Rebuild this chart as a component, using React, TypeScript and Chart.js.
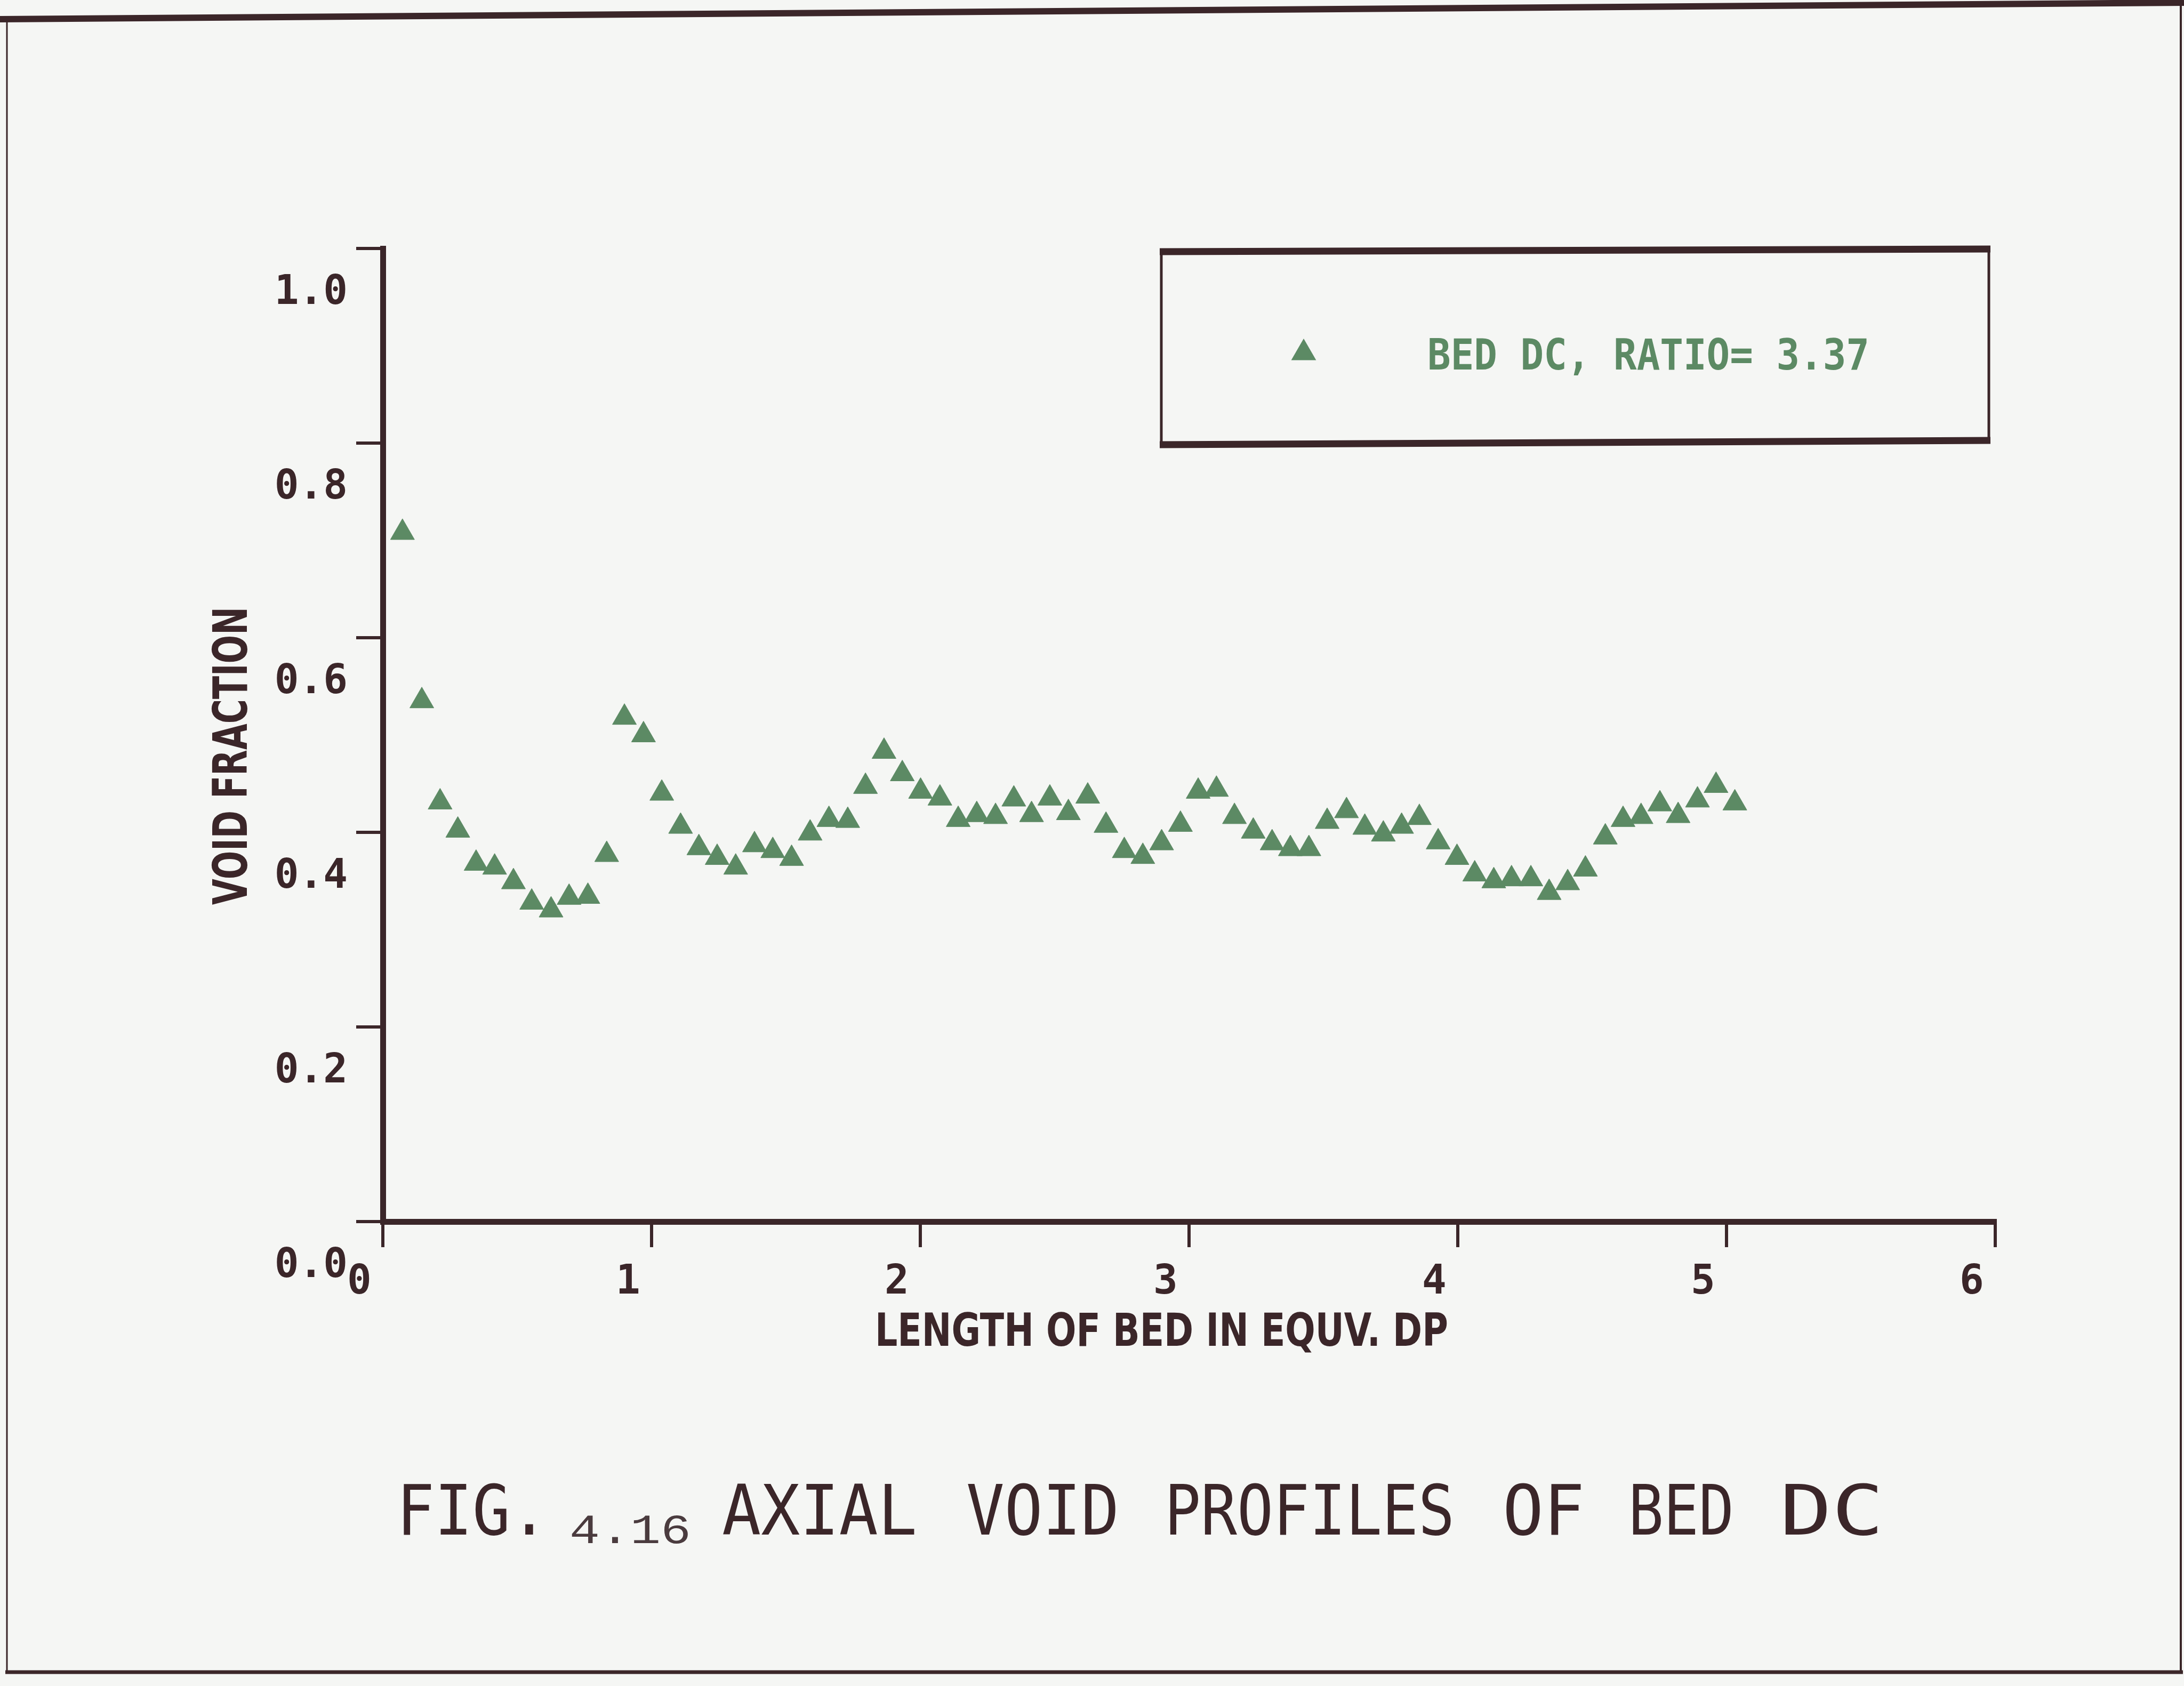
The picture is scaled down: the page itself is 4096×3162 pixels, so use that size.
import React, { useEffect, useRef } from 'react';
import { Chart, registerables } from 'chart.js';

Chart.register(...registerables);

// ---- data ----
const lengthDp = [
  0.073, 0.145, 0.213, 0.279, 0.347, 0.416, 0.486, 0.554, 0.626, 0.693,
  0.763, 0.833, 0.899, 0.970, 1.038, 1.108, 1.176, 1.244, 1.313, 1.383,
  1.451, 1.521, 1.590, 1.660, 1.730, 1.796, 1.865, 1.933, 2.001, 2.073,
  2.141, 2.210, 2.280, 2.348, 2.414, 2.482, 2.551, 2.623, 2.691, 2.759,
  2.828, 2.898, 2.968, 3.034, 3.102, 3.169, 3.239, 3.309, 3.377, 3.446,
  3.514, 3.586, 3.654, 3.723, 3.791, 3.857, 3.927, 3.997, 4.063, 4.134,
  4.200, 4.272, 4.340, 4.409, 4.475, 4.549, 4.615, 4.682, 4.752, 4.820,
  4.892, 4.961, 5.031,
];
const voidFraction = [
  0.708, 0.535, 0.431, 0.402, 0.368, 0.364, 0.349, 0.328, 0.320, 0.333,
  0.334, 0.377, 0.518, 0.500, 0.440, 0.406, 0.384, 0.374, 0.364, 0.387,
  0.381, 0.373, 0.399, 0.413, 0.412, 0.447, 0.483, 0.460, 0.442, 0.435,
  0.413, 0.418, 0.416, 0.434, 0.418, 0.435, 0.420, 0.437, 0.407, 0.381,
  0.375, 0.389, 0.408, 0.442, 0.444, 0.416, 0.401, 0.389, 0.383, 0.383,
  0.411, 0.422, 0.405, 0.398, 0.406, 0.415, 0.390, 0.374, 0.357, 0.350,
  0.352, 0.352, 0.338, 0.348, 0.362, 0.395, 0.413, 0.416, 0.429, 0.417,
  0.433, 0.448, 0.430,
];
const xTickValues = [0, 1, 2, 3, 4, 5, 6];
const yTickValues = [0, 0.2, 0.4, 0.6, 0.8, 1.0];
const seriesLabel = 'BED DC, RATIO= 3.37';
const xTitle = 'LENGTH OF BED IN EQUV. DP';
const yTitle = 'VOID FRACTION';
const captionFig = 'FIG.';
const captionNum = '4.16';
const captionWords = ['AXIAL', 'VOID', 'PROFILES', 'OF', 'BED', 'DC'];

// ---- styling ----
const W = 4096;
const H = 3162;
const PAPER = '#f5f6f4';
const INK = '#3b2629';
const GREEN = '#5c8a64';
const MONO = '"DejaVu Sans Mono", monospace';
const SANS = '"DejaVu Sans", sans-serif';
const TYPE = '"Liberation Mono", "DejaVu Sans Mono", monospace';

function fitText(
  ctx: CanvasRenderingContext2D,
  text: string,
  left: number,
  width: number,
  baseline: number,
  font: string,
  color: string,
) {
  ctx.save();
  ctx.font = font;
  ctx.fillStyle = color;
  ctx.textAlign = 'left';
  ctx.textBaseline = 'alphabetic';
  const w = ctx.measureText(text).width || 1;
  ctx.translate(left, baseline);
  ctx.scale(width / w, 1);
  ctx.fillText(text, 0, 0);
  ctx.restore();
}

const decorPlugin = {
  id: 'decor',
  beforeDraw(chart: any) {
    const ctx: CanvasRenderingContext2D = chart.ctx;
    ctx.save();
    ctx.fillStyle = PAPER;
    ctx.fillRect(0, 0, W, H);
    ctx.restore();
  },
  afterDraw(chart: any) {
    const ctx: CanvasRenderingContext2D = chart.ctx;
    ctx.save();
    ctx.strokeStyle = INK;
    ctx.lineCap = 'butt';
    // outer frame
    ctx.lineWidth = 12;
    ctx.beginPath();
    ctx.moveTo(0, 36);
    ctx.lineTo(W, 5);
    ctx.stroke();
    ctx.lineWidth = 3;
    ctx.beginPath();
    ctx.moveTo(13, 36);
    ctx.lineTo(13, 3138);
    ctx.stroke();
    ctx.lineWidth = 4;
    ctx.beginPath();
    ctx.moveTo(4090, 5);
    ctx.lineTo(4090, 3138);
    ctx.stroke();
    ctx.lineWidth = 7;
    ctx.beginPath();
    ctx.moveTo(10, 3136);
    ctx.lineTo(4094, 3136);
    ctx.stroke();

    // legend box
    const lx0 = 2178, lx1 = 3730, ly0 = 472, ly1 = 834;
    ctx.lineWidth = 13;
    ctx.beginPath();
    ctx.moveTo(lx0 - 3, ly0);
    ctx.lineTo(lx1 + 3, ly0 - 5);
    ctx.moveTo(lx0 - 3, ly1);
    ctx.lineTo(lx1 + 3, ly1 - 8);
    ctx.stroke();
    ctx.lineWidth = 5;
    ctx.beginPath();
    ctx.moveTo(lx0, ly0);
    ctx.lineTo(lx0, ly1);
    ctx.moveTo(lx1, ly0 - 5);
    ctx.lineTo(lx1, ly1 - 8);
    ctx.stroke();
    // legend marker
    const mx = 2445, my = 662, r = 27;
    ctx.fillStyle = GREEN;
    ctx.beginPath();
    for (let i = 0; i < 3; i++) {
      const a = (i * 2 * Math.PI) / 3;
      const px = mx + Math.sin(a) * r;
      const py = my - Math.cos(a) * r;
      if (i === 0) ctx.moveTo(px, py);
      else ctx.lineTo(px, py);
    }
    ctx.closePath();
    ctx.fill();
    fitText(ctx, seriesLabel, 2677, 829, 693, `bold 80px ${MONO}`, GREEN);

    // axis titles
    fitText(ctx, xTitle, 1641, 1075, 2524, `bold 86px ${SANS}`, INK);
    ctx.save();
    ctx.translate(463, 1697);
    ctx.rotate(-Math.PI / 2);
    fitText(ctx, yTitle, 0, 559, 0, `bold 89px ${SANS}`, INK);
    ctx.restore();

    // caption
    fitText(ctx, captionFig, 744, 284, 2878, `130px ${MONO}`, INK);
    fitText(ctx, captionNum, 1068, 228, 2894, `78px ${TYPE}`, '#4a3b3e');
    const wordPos = [
      [1354, 1720],
      [1812, 2099],
      [2184, 2728],
      [2818, 2972],
      [3054, 3252],
      [3338, 3533],
    ];
    captionWords.forEach((wd, i) => {
      const [a, b] = wordPos[i];
      fitText(ctx, wd, a, b - a, 2878, `130px ${MONO}`, INK);
    });
    ctx.restore();
  },
};

export default function App() {
  const ref = useRef<HTMLCanvasElement | null>(null);

  useEffect(() => {
    document.body.style.margin = '0';
    document.body.style.background = PAPER;
    const canvas = ref.current;
    if (!canvas) return;
    const points = lengthDp.map((x, i) => ({ x, y: voidFraction[i] }));
    const chart = new Chart(canvas, {
      type: 'scatter',
      data: {
        datasets: [
          {
            label: seriesLabel,
            data: points,
            showLine: false,
            pointStyle: 'triangle',
            pointRadius: 26,
            pointHoverRadius: 26,
            pointBackgroundColor: GREEN,
            pointBorderColor: GREEN,
            pointBorderWidth: 1,
          },
        ],
      },
      options: {
        responsive: false,
        devicePixelRatio: 1,
        animation: false,
        events: [],
        layout: { padding: { top: 466, right: 354, bottom: 0, left: 0 } },
        plugins: {
          legend: { display: false },
          tooltip: { enabled: false },
          title: { display: false },
        },
        scales: {
          x: {
            type: 'linear',
            min: 0,
            max: 6,
            afterFit: (s: any) => {
              s.height = H - 2291;
            },
            afterBuildTicks: (s: any) => {
              s.ticks = xTickValues.map((v) => ({ value: v }));
            },
            ticks: {
              stepSize: 1,
              autoSkip: false,
              maxRotation: 0,
              labelOffset: -44,
              padding: 22,
              color: INK,
              font: { family: MONO, weight: 'bold', size: 76 },
              callback: (v: any) => String(v),
            },
            grid: {
              display: true,
              drawOnChartArea: false,
              drawTicks: true,
              tickLength: 48,
              color: INK,
              lineWidth: 6,
            },
            border: { display: true, color: INK, width: 11 },
          },
          y: {
            type: 'linear',
            min: 0,
            max: 1,
            afterFit: (s: any) => {
              s.width = 718;
            },
            afterBuildTicks: (s: any) => {
              s.ticks = yTickValues.map((v) => ({ value: v }));
            },
            ticks: {
              stepSize: 0.2,
              autoSkip: false,
              labelOffset: 84,
              padding: 16,
              color: INK,
              font: { family: MONO, weight: 'bold', size: 76 },
              callback: (v: any) => Number(v).toFixed(1),
            },
            grid: {
              display: true,
              drawOnChartArea: false,
              drawTicks: true,
              tickLength: 50,
              color: INK,
              lineWidth: 6,
            },
            border: { display: true, color: INK, width: 11 },
          },
        },
      },
      plugins: [decorPlugin],
    });
    return () => chart.destroy();
  }, []);

  return (
    <canvas
      ref={ref}
      width={W}
      height={H}
      style={{ display: 'block', width: W + 'px', height: H + 'px' }}
    />
  );
}
